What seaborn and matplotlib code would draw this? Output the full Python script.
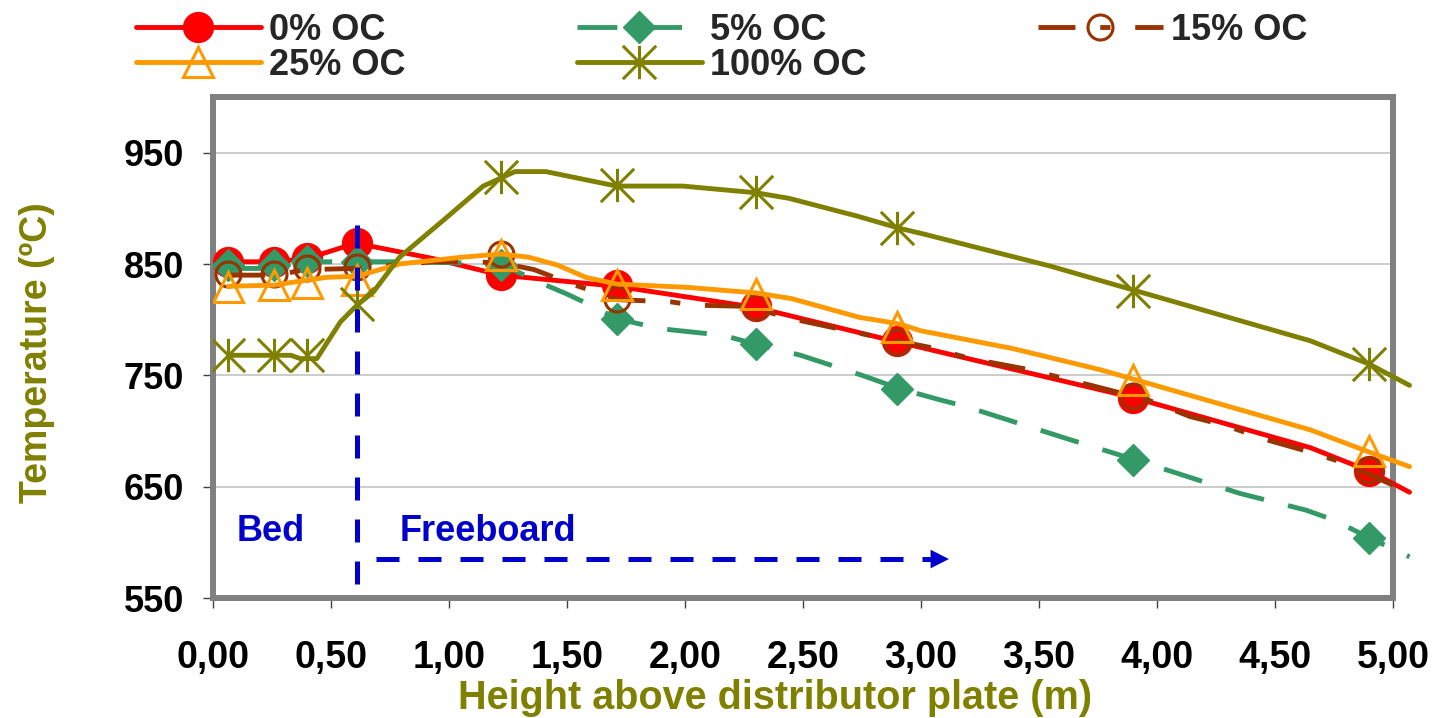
import matplotlib
matplotlib.use("Agg")
import matplotlib.pyplot as plt
import seaborn as sns
from matplotlib.lines import Line2D
from matplotlib.path import Path
from matplotlib.ticker import FuncFormatter


# measured points (markers)
exp_height = [0.065, 0.26, 0.40, 0.61, 1.22, 1.71, 2.30, 2.90, 3.90, 4.90]
exp_oc0 = [852, 852, 855, 869, 840, 831, 812, 781, 730, 664]
exp_oc5 = [849, 849, 853, 852, 849, 801, 778, 738, 674, 604]
exp_oc15 = [841, 841, 846, 847, 859, 819, 811, 780, 731, 665]
exp_oc25 = [829, 831, 833, 836, 858, 831, 823, 793, 746, 682]
exp_oc100 = [768, 768, 768, 814, 928, 921, 915, 882, 826, 760]

# profile curves (lines)
line_x_oc0 = [0.065, 0.26, 0.40, 0.61, 0.67, 0.93, 1.22, 1.71, 2.30, 2.90, 3.90, 4.65, 4.90, 5.07]
line_t_oc0 = [852, 852, 855, 869, 866, 855, 840, 830, 811, 780, 730, 685, 664, 645]

line_x_oc5 = [0.065, 0.26, 0.40, 0.61, 0.79, 1.06, 1.22, 1.29, 1.40, 1.50, 1.60, 1.71, 1.89,
              2.16, 2.30, 2.49, 2.75, 2.91, 3.08, 3.19, 3.62, 3.91, 4.35, 4.63, 4.75, 4.90, 5.07]
line_t_oc5 = [846, 846, 852, 852, 852, 851, 849, 843, 832, 823, 813, 801, 792,
              786, 778, 768, 750, 738, 728, 722, 693, 674, 644, 629, 620, 604, 587]

line_x_oc15 = [0.065, 0.26, 0.40, 0.61, 0.93, 1.10, 1.22, 1.36, 1.52, 1.62, 1.71, 1.94, 2.04,
               2.26, 2.47, 2.78, 3.04, 3.21, 3.46, 3.72, 3.96, 4.14, 4.29, 4.45, 4.60, 4.80, 4.94, 5.07]
line_t_oc15 = [840, 840, 845, 846, 852, 852, 851, 845, 832, 825, 818, 816, 813,
               812, 800, 786, 775, 765, 755, 741, 728, 713, 705, 693, 684, 671, 657, 645]

line_x_oc25 = [0.065, 0.26, 0.35, 0.48, 0.61, 0.79, 1.05, 1.22, 1.34, 1.46, 1.58, 1.71, 2.01,
               2.30, 2.45, 2.74, 2.83, 2.91, 3.00, 3.39, 3.76, 3.91, 4.65, 4.90, 5.07]
line_t_oc25 = [830, 831, 834, 838, 839, 850, 856, 859, 856, 849, 838, 832, 829,
               824, 819, 802, 799, 796, 790, 774, 755, 746, 701, 681, 668]

line_x_oc100 = [0.065, 0.33, 0.37, 0.44, 0.54, 0.61, 0.68, 0.79, 0.98, 1.145, 1.28, 1.41, 1.71,
                1.99, 2.30, 2.44, 2.73, 2.91, 3.01, 3.14, 3.55, 3.91, 4.65, 4.90, 5.07]
line_t_oc100 = [768, 768, 765, 765, 798, 813, 825, 856, 890, 920, 933, 933, 920,
                920, 914, 909, 893, 882, 877, 870, 848, 826, 781, 760, 741]

labels = ["0% OC", "5% OC", "15% OC", "25% OC", "100% OC"]
exp_values = [exp_oc0, exp_oc5, exp_oc15, exp_oc25, exp_oc100]
line_xs = [line_x_oc0, line_x_oc5, line_x_oc15, line_x_oc25, line_x_oc100]
line_ts = [line_t_oc0, line_t_oc5, line_t_oc15, line_t_oc25, line_t_oc100]

y_ticks = [550, 650, 750, 850, 950]
x_ticks = [0.0, 0.5, 1.0, 1.5, 2.0, 2.5, 3.0, 3.5, 4.0, 4.5, 5.0]

# bed / freeboard annotation
BED_LIMIT = 0.61
BED_LINE_TOP = 886
BED_LINE_BOTTOM = 563
ARROW_X0, ARROW_X1, ARROW_Y = 0.69, 3.13, 585

BLUE = "#0000CC"
OLIVE = "#808000"
GRAY = "#808080"
LW = 3.5

star = Path([(0, -1), (0, 1), (-1, -1), (1, 1), (-1, 1), (1, -1)],
            [Path.MOVETO, Path.LINETO, Path.MOVETO, Path.LINETO, Path.MOVETO, Path.LINETO])

styles = [
    dict(color="#FF0000", ls="-", marker="o", ms=21.5, mfc="#FF0000", mew=1.0),
    dict(color="#339966", ls=(0, (8.2, 5.1)), marker="D", ms=16.5, mfc="#339966", mew=1.0),
    dict(color="#993300", ls=(0, (7.6, 5.1, 2.1, 5.1)), marker="o", ms=18, mfc="none", mew=2.2),
    dict(color="#FF9900", ls="-", marker="^", ms=21.5, mfc="none", mew=2.2),
    dict(color=OLIVE, ls="-", marker=star, ms=24, mfc="none", mew=2.2),
]

sns.set_theme(style="white")
plt.rcParams["font.family"] = ["Liberation Sans", "DejaVu Sans"]
plt.rcParams["font.weight"] = "bold"

fig = plt.figure(figsize=(14.37, 7.18), dpi=100)
ax = fig.add_axes([213 / 1437, 1 - 598 / 718, 1180 / 1437, 501 / 718])

for i, st in enumerate(styles):
    sns.lineplot(x=line_xs[i], y=line_ts[i], ax=ax, color=st["color"], lw=LW,
                 linestyle=st["ls"], errorbar=None, zorder=3 + 2 * i, clip_on=False)
    sns.lineplot(x=exp_height, y=exp_values[i], ax=ax, color=st["color"], linestyle="",
                 marker=st["marker"], markersize=st["ms"], markerfacecolor=st["mfc"],
                 markeredgecolor=st["color"], markeredgewidth=st["mew"],
                 errorbar=None, zorder=4 + 2 * i)

# bed / freeboard marks
ax.vlines(BED_LIMIT, BED_LINE_BOTTOM, BED_LINE_TOP, colors=BLUE, lw=3.6,
          linestyles=(0, (4.6, 3.8)), zorder=20)
ax.plot([ARROW_X0, ARROW_X1 - 0.05], [ARROW_Y, ARROW_Y], color=BLUE, lw=3.6,
        linestyle=(0, (4.6, 3.8)), zorder=20)
ax.annotate("", xy=(ARROW_X1, ARROW_Y), xytext=(ARROW_X1 - 0.06, ARROW_Y),
            arrowprops=dict(arrowstyle="-|>,head_length=0.55,head_width=0.28",
                            color=BLUE, lw=0, mutation_scale=24), zorder=20)
ax.text(0.10, 601, "Bed", color=BLUE, fontsize=26, fontweight="bold", ha="left", va="baseline")
ax.text(0.79, 601, "Freeboard", color=BLUE, fontsize=26, fontweight="bold", ha="left", va="baseline")

ax.set_xlim(0, 5)
ax.set_ylim(550, 1000)
ax.set_xticks(x_ticks)
ax.set_yticks(y_ticks)
ax.xaxis.set_major_formatter(FuncFormatter(lambda v, p: f"{v:.2f}".replace(".", ",")))
ax.set_axisbelow(True)
ax.yaxis.grid(True, color="#c8c8c8", lw=1.3)
ax.xaxis.grid(False)
for s in ax.spines.values():
    s.set_visible(True)
    s.set_color(GRAY)
    s.set_linewidth(4.3)
ax.tick_params(axis="y", left=True, length=7, width=1, color="#404040", pad=14,
               labelsize=26, labelcolor="black")
ax.tick_params(axis="x", bottom=True, length=7, width=1, color="#404040", pad=23,
               labelsize=27, labelcolor="black")

ax.set_ylabel("Temperature (ºC)", color=OLIVE, fontsize=27, fontweight="bold")
ax.yaxis.set_label_coords(-0.134, 0.49)
ax.set_xlabel("Height above distributor plate (m)", color=OLIVE, fontsize=28.5, fontweight="bold")
ax.xaxis.set_label_coords(0.476, -0.162)

handles = [Line2D([], [], color=st["color"], lw=LW, linestyle=st["ls"], marker=st["marker"],
                  markersize=st["ms"], markerfacecolor=st["mfc"], markeredgecolor=st["color"],
                  markeredgewidth=st["mew"]) for st in styles]
order = [0, 3, 1, 4, 2]
fig.legend([handles[i] for i in order], [labels[i] for i in order], ncol=3,
           loc="upper left", bbox_to_anchor=(136 / 1437, 0.982), frameon=False,
           prop={"size": 26, "weight": "bold"}, handlelength=3.46, handletextpad=0.22,
           columnspacing=4.75, labelspacing=0.0, borderpad=0, borderaxespad=0)

fig.savefig("out.png", dpi=100)
plt.close(fig)
